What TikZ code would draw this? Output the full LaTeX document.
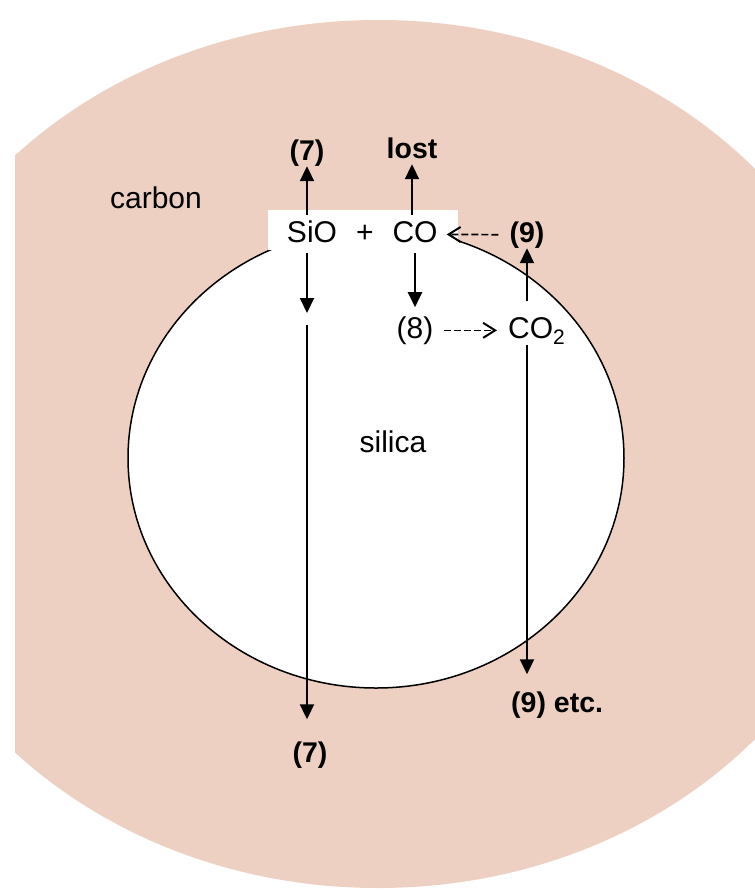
\documentclass[tikz,border=0pt]{standalone}
\usepackage{fontspec}
\setmainfont{Liberation Sans}
\usetikzlibrary{arrows.meta}
\definecolor{carb}{RGB}{237,208,193}
\begin{document}
\begin{tikzpicture}[x=1pt,y=-1pt,
  txt/.style={font=\fontsize{30}{32}\selectfont, inner sep=0pt, text height=21.6pt, text depth=6.3pt, anchor=base},
  lbl/.style={font=\bfseries\fontsize{28.5}{30}\selectfont, inner sep=0pt, text height=20.5pt, text depth=6pt, anchor=base},
  arr/.style={line width=2pt, -{Triangle[length=15pt,width=14pt]}},
  darr/.style={line width=1.7pt, dash pattern=on 7pt off 3pt, -{Straight Barb[length=12pt,width=15pt,line width=2pt]}}]
\fill[white] (0,0) rectangle (755,892);
\useasboundingbox (0,0) rectangle (755,892);
\begin{scope}
  \clip (15,0) rectangle (755,892);
  \fill[carb] (378,454) ellipse [x radius=500, y radius=434];
\end{scope}
\draw[line width=1.5pt, fill=white] (376,458) ellipse [x radius=248, y radius=230];
\fill[white] (268,210) rectangle (458,250);

\node[txt] (carbon) at (156,208) {carbon};
\node[txt] (silica) at (393,452) {silica};
\node[lbl] (l7t) at (307,160) {(7)};
\node[lbl] (lost) at (412,158) {lost};
\node[txt, outer ysep=5pt] (sio) at (312,242) {SiO};
\node[txt] (plus) at (365,242) {+};
\node[txt, outer ysep=5pt] (co) at (415,242) {CO};
\node[lbl] (l9t) at (527,242) {(9)};
\node[txt] (n8) at (415,338) {(8)};
\node[txt, anchor=base west] (co2) at (508,338) {CO\textsubscript{2}};
\node[lbl, anchor=base west] (n9e) at (511,712) {(9) etc.};
\node[lbl] (l7b) at (310,762) {(7)};
\coordinate (mid) at (307,313);

\draw[arr] (sio.north -| l7t) -- (l7t.south);
\draw[arr] (co.north -| lost) -- (lost.south);
\draw[arr] (sio.south -| mid) -- (mid);
\draw[arr, shorten <=12pt, shorten >=22pt] (mid) -- (l7b.north -| mid);
\draw[arr, shorten >=9pt] (co.south) -- (n8.north);
\draw[darr, shorten <=10pt, shorten >=11pt] (n8.east) -- (co2.west);
\draw[darr, shorten <=11pt, shorten >=9pt] (l9t.west) -- (co.east);
\draw[arr, shorten <=15pt] (co2.north -| l9t) -- (l9t.south);
\draw[arr, shorten >=17pt] (co2.south -| l9t) -- (n9e.north -| l9t);
\end{tikzpicture}
\end{document}
